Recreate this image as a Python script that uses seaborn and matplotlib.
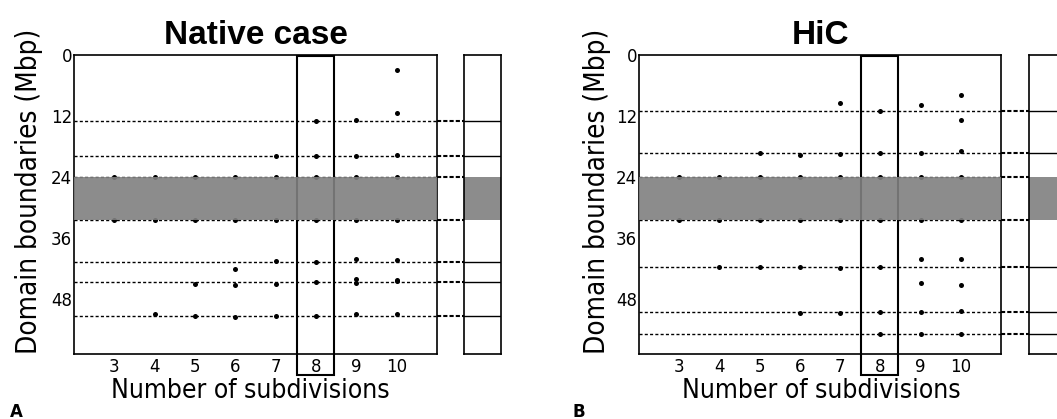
import matplotlib
matplotlib.use("Agg")
import matplotlib.pyplot as plt
import matplotlib.transforms as mtransforms
from matplotlib.patches import Rectangle
import pandas as pd
import seaborn as sns

# Domain boundaries (Mbp) found for each number of subdivisions
subdivisions = [3, 4, 5, 6, 7, 8, 9, 10]
native_boundaries = {
    3: [24.0, 32.5],
    4: [24.0, 32.5, 51.0],
    5: [24.0, 32.5, 45.0, 51.4],
    6: [24.0, 32.5, 42.0, 45.3, 51.5],
    7: [19.8, 24.0, 32.5, 40.5, 45.0, 51.3],
    8: [12.9, 19.8, 24.0, 32.5, 40.7, 44.6, 51.3],
    9: [12.8, 19.9, 24.0, 32.5, 40.1, 44.0, 44.9, 51.0],
    10: [2.9, 11.5, 19.6, 24.0, 32.5, 40.4, 44.2, 44.5, 50.9],
}
hic_boundaries = {
    3: [24.0, 32.5],
    4: [24.0, 32.5, 41.6],
    5: [19.2, 24.0, 32.5, 41.6],
    6: [19.6, 24.0, 32.5, 41.6, 50.7],
    7: [9.5, 19.4, 24.0, 32.5, 41.8, 50.8],
    8: [11.0, 19.3, 24.0, 32.5, 41.6, 50.6, 54.9],
    9: [9.8, 19.3, 24.0, 32.5, 40.1, 44.9, 50.5, 54.8],
    10: [7.9, 12.7, 18.9, 24.0, 32.5, 40.1, 45.2, 50.4, 54.9],
}
selected_k = 8
centromere = (24.0, 32.5)
chrom_length = 58.8
y_ticks = [0, 12, 24, 36, 48]

sns.set_style("white")
plt.rcParams["font.family"] = ["DejaVu Sans"]
plt.rcParams.update({
    "text.color": "black",
    "axes.labelcolor": "black",
    "xtick.color": "black",
    "ytick.color": "black",
})

W, H = 1057, 419
fig = plt.figure(figsize=(W / 100, H / 100), dpi=100)


def px_rect(x0, x1, y_top, y_bot):
    return [x0 / W, (H - y_bot) / H, (x1 - x0) / W, (y_bot - y_top) / H]


def draw_panel(main_px, side_px, title, boundaries, letter, letter_x, xlab_x, ylab_x):
    ax = fig.add_axes(px_rect(*main_px))
    rows = [(k, b) for k in subdivisions for b in boundaries[k]]
    df = pd.DataFrame(rows, columns=["subdivisions", "boundary"])
    sns.scatterplot(data=df, x="subdivisions", y="boundary", ax=ax,
                    color="black", s=13, linewidth=0, zorder=3, legend=False)
    ax.set_xlim(2, 11)
    ax.set_ylim(chrom_length, 0)
    ax.set_xticks(subdivisions)
    ax.set_yticks(y_ticks)
    ax.tick_params(length=0, labelsize=12, pad=3)
    ax.tick_params(axis="y", pad=1.5)
    for sp in ax.spines.values():
        sp.set_color("black")
        sp.set_linewidth(1.2)

    side_left = (side_px[0] - main_px[0]) / (main_px[1] - main_px[0])
    trans = mtransforms.blended_transform_factory(ax.transAxes, ax.transData)
    ref = boundaries[selected_k]
    for y in ref:
        ax.plot([0, 1], [y, y], transform=trans, color="black", lw=1.0,
                ls=(0, (2.2, 1.6)), zorder=2)
        ax.plot([1, side_left], [y, y], transform=trans, color="black", lw=1.5,
                ls=(0, (2.0, 1.0)), zorder=2, clip_on=False)

    ax.axhspan(*centromere, color="#808080", alpha=0.9, lw=0, zorder=4)

    ax.add_patch(Rectangle((selected_k - 0.47, 0.2), 0.91, 62.8, fill=False,
                           edgecolor="black", lw=1.5, clip_on=False, zorder=3))

    ax.set_title(title, fontsize=24, fontweight="bold", pad=8, color="black",
                 family=["Liberation Sans", "DejaVu Sans"])
    ax.set_xlabel("Number of subdivisions", fontsize=19, fontstretch="condensed")
    ax.xaxis.label.set_va("center")
    ax.xaxis.set_label_coords(xlab_x, -0.125)
    ax.set_ylabel("Domain boundaries (Mbp)", fontsize=20, fontstretch="condensed")
    ax.yaxis.label.set_va("center")
    ax.yaxis.set_label_coords(ylab_x, 0.545)

    sax = fig.add_axes(px_rect(*side_px))
    sax.set_xlim(0, 1)
    sax.set_ylim(chrom_length, 0)
    sax.set_xticks([])
    sax.set_yticks([])
    for sp in sax.spines.values():
        sp.set_color("black")
        sp.set_linewidth(1.2)
    sax.axhspan(*centromere, color="#8c8c8c", lw=0, zorder=2)
    for y in ref:
        if y not in centromere:
            sax.axhline(y, color="black", lw=1.0, zorder=3)

    fig.text(letter_x / W, (H - 412) / H, letter, fontsize=12, fontweight="bold",
             ha="left", va="center")


draw_panel((74, 437, 55, 354), (464, 501, 55, 354), "Native case",
           native_boundaries, "A", 10, 0.486, -0.124)
draw_panel((639, 1001, 55, 354), (1029, 1066, 55, 354), "HiC",
           hic_boundaries, "B", 573, 0.505, -0.116)

fig.savefig("out.png", dpi=100)
